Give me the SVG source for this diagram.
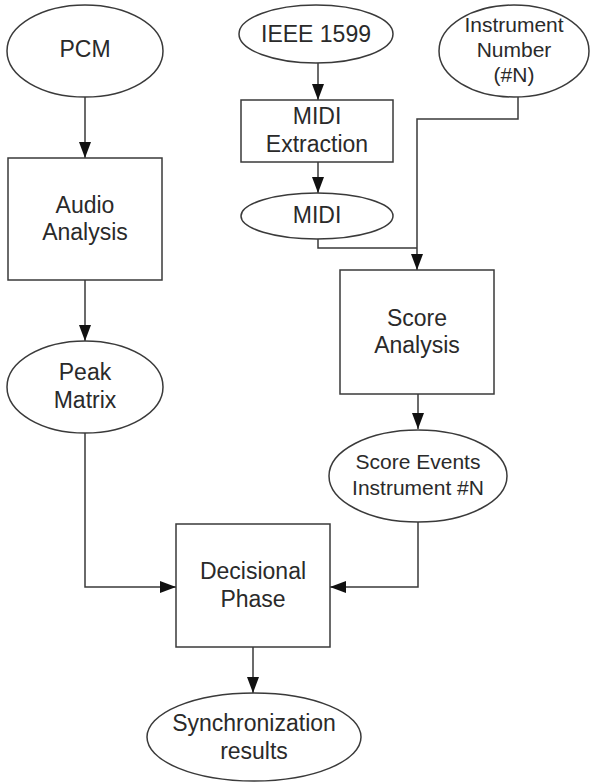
<svg xmlns="http://www.w3.org/2000/svg" width="590" height="782" viewBox="0 0 590 782">
<style>
.shape{fill:#fff;stroke:#3a3a3a;stroke-width:1.5}
.conn{fill:none;stroke:#3a3a3a;stroke-width:1.5}
text{font-family:"Liberation Sans",Arial,sans-serif;font-size:23px;fill:#2a2a2a;text-anchor:middle}
.sm{font-size:21px}
</style>
<defs>
<marker id="arr" viewBox="0 0 16 12" refX="16" refY="6" markerWidth="16" markerHeight="12" markerUnits="userSpaceOnUse" orient="auto">
<path d="M0,0 L16,6 L0,12 Z" fill="#111"/>
</marker>
</defs>
<g id="connectors">
<path class="conn" d="M85,97 V158" marker-end="url(#arr)"/>
<path class="conn" d="M85,280 V341" marker-end="url(#arr)"/>
<path class="conn" d="M85,433 V587 H176" marker-end="url(#arr)"/>
<path class="conn" d="M318,63 V100" marker-end="url(#arr)"/>
<path class="conn" d="M318,162 V193" marker-end="url(#arr)"/>
<path class="conn" d="M318,239 V248 H417"/>
<path class="conn" d="M518,97 V119 H417 V270" marker-end="url(#arr)"/>
<path class="conn" d="M418,394 V429" marker-end="url(#arr)"/>
<path class="conn" d="M418,522 V587 H330" marker-end="url(#arr)"/>
<path class="conn" d="M253,647 V693" marker-end="url(#arr)"/>
</g>
<g id="pcm">
<ellipse class="shape" cx="85" cy="51" rx="78" ry="46"/>
<text x="85" y="57">PCM</text>
</g>
<g id="audio-analysis">
<rect class="shape" x="8" y="158" width="154" height="122"/>
<text x="85" y="213">Audio</text>
<text x="85" y="240">Analysis</text>
</g>
<g id="peak-matrix">
<ellipse class="shape" cx="85" cy="387" rx="78" ry="46"/>
<text x="85" y="380">Peak</text>
<text x="85" y="408">Matrix</text>
</g>
<g id="ieee1599">
<ellipse class="shape" cx="316" cy="34" rx="77" ry="29"/>
<text x="316" y="42">IEEE 1599</text>
</g>
<g id="midi-extraction">
<rect class="shape" x="241" y="100" width="152" height="62"/>
<text x="317" y="124">MIDI</text>
<text x="317" y="152">Extraction</text>
</g>
<g id="midi">
<ellipse class="shape" cx="317" cy="216" rx="76" ry="23"/>
<text x="317" y="223">MIDI</text>
</g>
<g id="instrument-number">
<ellipse class="shape" cx="514" cy="51" rx="75" ry="46"/>
<text class="sm" x="514" y="32">Instrument</text>
<text class="sm" x="514" y="57">Number</text>
<text class="sm" x="514" y="82">(#N)</text>
</g>
<g id="score-analysis">
<rect class="shape" x="340" y="270" width="154" height="124"/>
<text x="417" y="326">Score</text>
<text x="417" y="353">Analysis</text>
</g>
<g id="score-events">
<ellipse class="shape" cx="418" cy="476" rx="89" ry="46"/>
<text class="sm" x="418" y="469">Score Events</text>
<text class="sm" x="418" y="495">Instrument #N</text>
</g>
<g id="decisional-phase">
<rect class="shape" x="176" y="524" width="154" height="123"/>
<text x="253" y="579">Decisional</text>
<text x="253" y="607">Phase</text>
</g>
<g id="sync-results">
<ellipse class="shape" cx="254" cy="737" rx="107" ry="44"/>
<text x="254" y="731">Synchronization</text>
<text x="254" y="759">results</text>
</g>
</svg>
